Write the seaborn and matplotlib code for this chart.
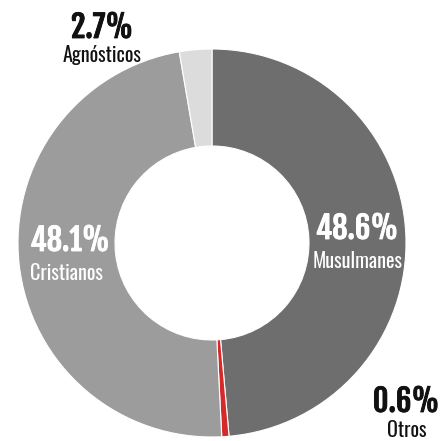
import matplotlib
matplotlib.use("Agg")
import matplotlib.pyplot as plt
import matplotlib.patheffects as pe
import seaborn as sns

categories = ["Musulmanes", "Otros", "Cristianos", "Agnósticos"]
values = [48.6, 0.6, 48.1, 2.7]
labels_pct = ["48.6%", "0.6%", "48.1%", "2.7%"]
colors = ["#6e6e6e", "#d42a2a", "#9c9c9c", "#dcdcdc"]

sns.set_theme(style="white")
FAM = ['Oswald', 'Fjalla One', 'DejaVu Sans']
PCT_FAM = ['Fjalla One', 'Oswald', 'DejaVu Sans']
plt.rcParams['font.family'] = FAM

W = 441
cx, cy, R = 212, 243, 194

fig = plt.figure(figsize=(4.41, 4.41), dpi=100)
ax = fig.add_axes([0, 0, 1, 1])
ax.pie(values, colors=colors, startangle=90, counterclock=False, radius=1,
       wedgeprops=dict(width=0.5, edgecolor="white", linewidth=0.8))
ax.set_xlim(-cx / R, (W - cx) / R)
ax.set_ylim(-(W - cy) / R, cy / R)
ax.set_aspect("auto")
ax.axis("off")

def px(x, y):
    return (x - cx) / R, (cy - y) / R

# label positions in pixels (pct center, name center, color)
pos = {
    "Musulmanes": ((357, 229), (358, 261), "white"),
    "Cristianos": ((70, 241), (66, 273), "white"),
    "Agnósticos": ((102, 28), (102, 55), "#111111"),
    "Otros": ((406, 402), (407, 430), "#111111"),
}
for cat, pct in zip(categories, labels_pct):
    (p1, p2, col) = pos[cat]
    ax.text(*px(*p1), pct, ha="center", va="center", fontsize=22,
            family=PCT_FAM, color=col,
            path_effects=[pe.withStroke(linewidth=0.6, foreground=col)])
    ax.text(*px(*p2), cat, ha="center", va="center", fontsize=14.5,
            family=FAM, fontweight="normal", color=col)

fig.savefig("out.png", dpi=100)
